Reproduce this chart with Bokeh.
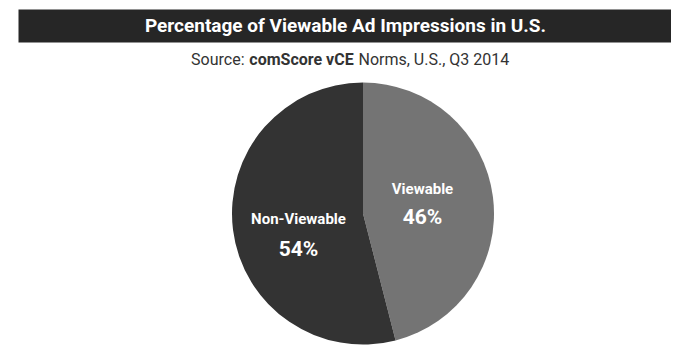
import numpy as np
from bokeh.plotting import figure
from bokeh.models import Range1d, ColumnDataSource
from bokeh.core.properties import value
from bokeh.embed import file_html
from bokeh.resources import INLINE

# ---- data ----
categories = ["Viewable", "Non-Viewable"]
shares = [46, 54]
slice_colors = ["#747474", "#333333"]
pct_labels = ["46%", "54%"]

title_text = "Percentage of Viewable Ad Impressions in U.S."
source_prefix = "Source:"
source_bold = "comScore vCE"
source_suffix = "Norms, U.S., Q3 2014"

FONT = "Roboto"
W, H = 671, 348

p = figure(width=W, height=H, output_backend="svg", toolbar_location=None,
           x_range=Range1d(0, W), y_range=Range1d(0, H),
           min_border=0, outline_line_color=None)
p.axis.visible = False
p.grid.visible = False
p.background_fill_color = "white"
p.border_fill_color = "white"

# ---- pie (starts at 12 o'clock, clockwise) ----
cx, cy, r = 362.5, 135, 131
vals = np.array(shares, dtype=float)
frac = vals / vals.sum()
ends = np.pi / 2 - np.cumsum(frac) * 2 * np.pi
starts = np.concatenate([[np.pi / 2], ends[:-1]])
src = ColumnDataSource(dict(start=ends, end=starts, color=slice_colors))
p.wedge(x=cx, y=cy, radius=r, start_angle="start", end_angle="end",
        fill_color="color", line_color=None, source=src)

# ---- slice labels ----
name_xy = [(422, 160), (298, 130)]
pct_xy = [(422, 132), (298, 100)]
for i in range(len(categories)):
    p.text(x=[name_xy[i][0]], y=[name_xy[i][1]], text=[categories[i]],
           text_font=value(FONT), text_font_style="bold", text_font_size="15px",
           text_color="white", text_align="center", text_baseline="middle")
    p.text(x=[pct_xy[i][0]], y=[pct_xy[i][1]], text=[pct_labels[i]],
           text_font=value(FONT), text_font_style="bold", text_font_size="21px",
           text_color="white", text_align="center", text_baseline="middle")

# ---- title bar ----
p.quad(left=18, right=673, bottom=306, top=339, fill_color="#262626", line_color=None)
p.text(x=[345], y=[323], text=[title_text], text_font=value(FONT),
       text_font_style="bold", text_font_size="19px", text_color="white",
       text_align="center", text_baseline="middle")

# ---- subtitle ----
p.text(x=[244], y=[289], text=[source_prefix], text_font=value(FONT),
       text_font_size="16px", text_color="#333333",
       text_align="right", text_baseline="middle")
p.text(x=[301], y=[289], text=[source_bold], text_font=value(FONT),
       text_font_style="bold", text_font_size="16px", text_color="#333333",
       text_align="center", text_baseline="middle")
p.text(x=[358], y=[289], text=[source_suffix], text_font=value(FONT),
       text_font_size="16px", text_color="#333333",
       text_align="left", text_baseline="middle")

open("out.html", "w").write(file_html(p, INLINE))
